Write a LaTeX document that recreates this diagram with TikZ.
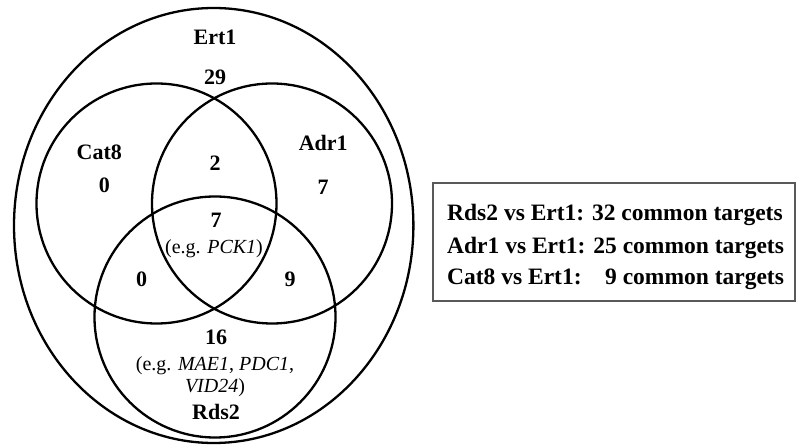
\documentclass[tikz,border=0pt]{standalone}
\usepackage{fontspec}
\setmainfont{Liberation Serif}
\usetikzlibrary{shapes.geometric}
\begin{document}
\begin{tikzpicture}[x=1pt,y=-1pt,
  set/.style={draw=black, line width=2.3pt, circle, inner sep=0pt},
  lbl/.style={font=\fontsize{22}{26}\selectfont\bfseries, anchor=base, inner sep=0pt},
  note/.style={font=\fontsize{20}{22}\selectfont, anchor=base, inner sep=0pt},
  boxtxt/.style={font=\fontsize{23.5}{27}\selectfont\bfseries, anchor=base west, inner sep=0pt}]
\useasboundingbox (0,0) rectangle (796,446);
% sets
\node[set, ellipse, minimum width=399.4pt, minimum height=435pt] (ert1) at (213.7,225.5) {};
\node[set, minimum size=240pt] (cat8) at (156.5,203.5) {};
\node[set, minimum size=240pt] (adr1) at (272,203.5) {};
\node[set, minimum size=241pt] (rds2) at (215,317) {};
% labels
\node[lbl] (ert1lbl) at (215,45) {Ert1};
\node[lbl] (n29) at (215,85) {29};
\node[lbl] (cat8lbl) at (99.3,160) {Cat8};
\node[lbl] (n0a) at (104.3,192.7) {0};
\node[lbl] (n2) at (215,171) {2};
\node[lbl] (adr1lbl) at (323.3,150.7) {Adr1};
\node[lbl] (n7a) at (323,195) {7};
\node[lbl] (n7b) at (216,228) {7};
\node[note] (pck) at (214,253.3) {(e.g. \textit{PCK1})};
\node[lbl] (n0b) at (141.7,286.7) {0};
\node[lbl] (n9) at (290,286.7) {9};
\node[lbl] (n16) at (216,345) {16};
\node[note] (ex1) at (215,370.7) {(e.g. \textit{MAE1}, \textit{PDC1},};
\node[note] (ex2) at (215,392.7) {\textit{VID24})};
\node[lbl] (rds2lbl) at (216,420) {Rds2};
% legend box
\node[draw=black!65, line width=1.4pt, minimum width=362pt, minimum height=118pt, inner sep=0pt] (legend) at (614,242) {};
\node[boxtxt] (l1) at (447,220.5) {Rds2 vs Ert1: 32 common targets};
\node[boxtxt] (l2) at (447,254) {Adr1 vs Ert1: 25 common targets};
\node[boxtxt] (l3) at (447,285) {Cat8 vs Ert1:\hspace{0.167em} \hphantom{3}9 common targets};
\end{tikzpicture}
\end{document}
